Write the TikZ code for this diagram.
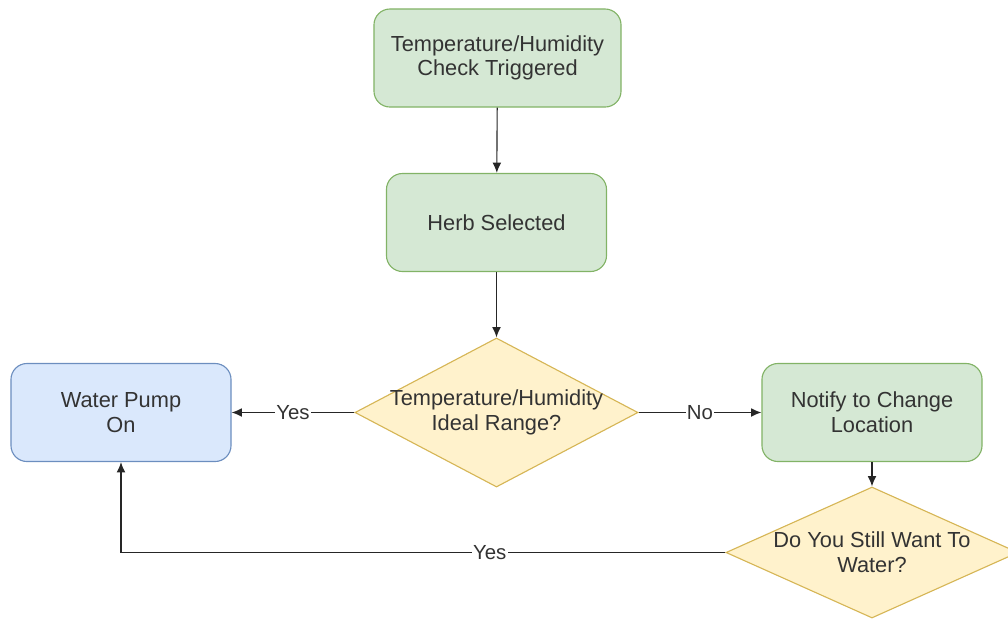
\documentclass[tikz,border=0pt]{standalone}
\usepackage{fontspec}
\setmainfont{Liberation Sans}
\usetikzlibrary{shapes.geometric,arrows.meta}

\definecolor{greenfill}{HTML}{D5E8D4}
\definecolor{greenline}{HTML}{82B366}
\definecolor{bluefill}{HTML}{DAE8FC}
\definecolor{blueline}{HTML}{6C8EBF}
\definecolor{yellowfill}{HTML}{FFF2CC}
\definecolor{yellowline}{HTML}{D6B656}
\definecolor{textgray}{HTML}{333333}

\tikzset{
    box/.style={draw, rounded corners=0.4cm, line width=0.8pt, align=center,
        minimum width=5.5cm, minimum height=2.45cm, text=textgray,
        font=\fontsize{15.5}{17.5}\selectfont},
    greenbox/.style={box, fill=greenfill, draw=greenline},
    bluebox/.style={box, fill=bluefill, draw=blueline},
    decision/.style={diamond, draw=yellowline, fill=yellowfill, line width=0.8pt,
        align=center, inner sep=-4pt, text=textgray,
        font=\fontsize{15.5}{17.5}\selectfont},
    link/.style={-{Latex[length=2.6mm,width=2.2mm]}, line width=0.8pt, black!85},
    tag/.style={fill=white, inner sep=1pt, text=textgray,
        font=\fontsize{14.5}{16}\selectfont}
}

\begin{document}
\begin{tikzpicture}[x=0.025cm, y=-0.025cm]
        \useasboundingbox (0,0) rectangle (1008,621);
        \node[greenbox, minimum width=6.175cm] (check) at (497.5,58) {Temperature/Humidity\\Check Triggered};
        \node[greenbox] (herb) at (496.5,222.5) {Herb Selected};
        \node[decision, aspect=1.9, minimum width=7.075cm, minimum height=3.725cm] (range) at (496.5,412.5) {Temperature/Humidity\\Ideal Range?};
        \node[bluebox] (pump) at (121,412.5) {Water Pump\\On};
        \node[greenbox] (notify) at (872,412.5) {Notify to Change\\Location};
        \node[decision, aspect=2.23, minimum width=7.3cm, minimum height=3.275cm] (still) at (872,552.5) {Do You Still Want To\\Water?};

        \draw[link] (check) -- (herb);
        \draw[link] (herb) -- (range);
        \draw[link] (range) -- node[tag] {Yes} (pump);
        \draw[link] (range) -- node[tag] {No} (notify);
        \draw[link] (notify) -- (still);
        \draw[link] (still.west) -- node[tag, pos=0.39] {Yes} (121,552.5) -- (pump.south);
    \end{tikzpicture}
\end{document}
